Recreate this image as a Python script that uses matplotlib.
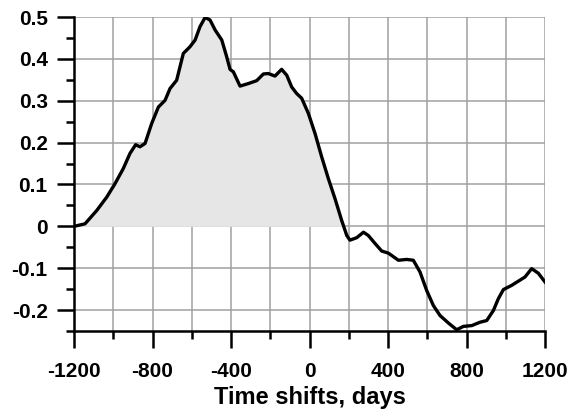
import numpy as np
import matplotlib
matplotlib.use('Agg')
import matplotlib.pyplot as plt
from matplotlib.ticker import MultipleLocator

# --- DATA: cross-correlation vs time shift ---
shift_days = [-1200, -1144, -1084, -1033, -991, -949, -915, -886, -864, -838,
              -804, -770, -736, -711, -677, -643, -609, -583, -558, -532,
              -507, -481, -447, -422, -405, -388, -354, -312, -269, -235,
              -210, -176, -142, -116, -91, -65, -40, -6, 28, 62,
              96, 130, 164, 190, 206, 241, 275, 300, 334, 368,
              402, 453, 495, 529, 563, 597, 631, 665, 708, 750,
              784, 827, 869, 903, 937, 962, 988, 1030, 1064, 1098,
              1132, 1166, 1200]
correlation = [0.000, 0.006, 0.038, 0.070, 0.102, 0.138, 0.174, 0.195, 0.190, 0.198,
               0.246, 0.285, 0.301, 0.329, 0.349, 0.413, 0.429, 0.445, 0.477, 0.499,
               0.493, 0.469, 0.445, 0.405, 0.375, 0.369, 0.335, 0.341, 0.348, 0.364,
               0.365, 0.359, 0.375, 0.361, 0.333, 0.317, 0.306, 0.270, 0.222, 0.166,
               0.114, 0.066, 0.014, -0.022, -0.033, -0.027, -0.014, -0.022, -0.041, -0.059,
               -0.064, -0.081, -0.079, -0.081, -0.109, -0.153, -0.189, -0.213, -0.231, -0.247,
               -0.239, -0.237, -0.229, -0.225, -0.201, -0.173, -0.151, -0.141, -0.131, -0.121,
               -0.101, -0.112, -0.133]

x_ticks = [-1200, -800, -400, 0, 400, 800, 1200]
y_ticks = [-0.2, -0.1, 0, 0.1, 0.2, 0.3, 0.4, 0.5]
y_tick_labels = ['-0.2', '-0.1', '0', '0.1', '0.2', '0.3', '0.4', '0.5']

plt.rcParams['font.family'] = ['Liberation Sans', 'DejaVu Sans']
plt.rcParams['font.weight'] = 'bold'
plt.rcParams['axes.unicode_minus'] = False

fig = plt.figure(figsize=(5.72, 4.16), dpi=100)
ax = fig.add_axes([0.1294, 0.2043, 0.8234, 0.7548])

x = np.array(shift_days)
y = np.array(correlation)

ax.fill_between(x, 0, y, where=y > 0, interpolate=True, color='#e6e6e6', lw=0, zorder=1)
ax.plot(x, y, color='black', lw=2.4, zorder=3, solid_joinstyle='round')

ax.set_xlim(-1200, 1200)
ax.set_ylim(-0.25, 0.5)

ax.set_xticks(x_ticks)
ax.set_yticks(y_ticks)
ax.set_yticklabels(y_tick_labels)
ax.xaxis.set_minor_locator(MultipleLocator(200))
ax.yaxis.set_minor_locator(MultipleLocator(0.05))

# grid on every 200 days and every 0.1
for gx in range(-1000, 1201, 200):
    ax.axvline(gx, color='#a0a0a0', lw=1.1, zorder=0.5)
for gy in y_ticks:
    ax.axhline(gy, color='#a0a0a0', lw=1.1, zorder=0.5)

for side in ['top', 'right']:
    ax.spines[side].set_visible(False)
for side in ['left', 'bottom']:
    ax.spines[side].set_linewidth(1.8)
    ax.spines[side].set_zorder(4)

ax.tick_params(which='major', length=12, width=1.8, labelsize=15, pad=7)
ax.tick_params(which='minor', length=6, width=1.8)
ax.tick_params(axis='x', which='major', pad=10)

ax.set_xlabel('Time shifts, days', fontsize=17, fontweight='bold', labelpad=4)

fig.savefig('out.png', dpi=100)
